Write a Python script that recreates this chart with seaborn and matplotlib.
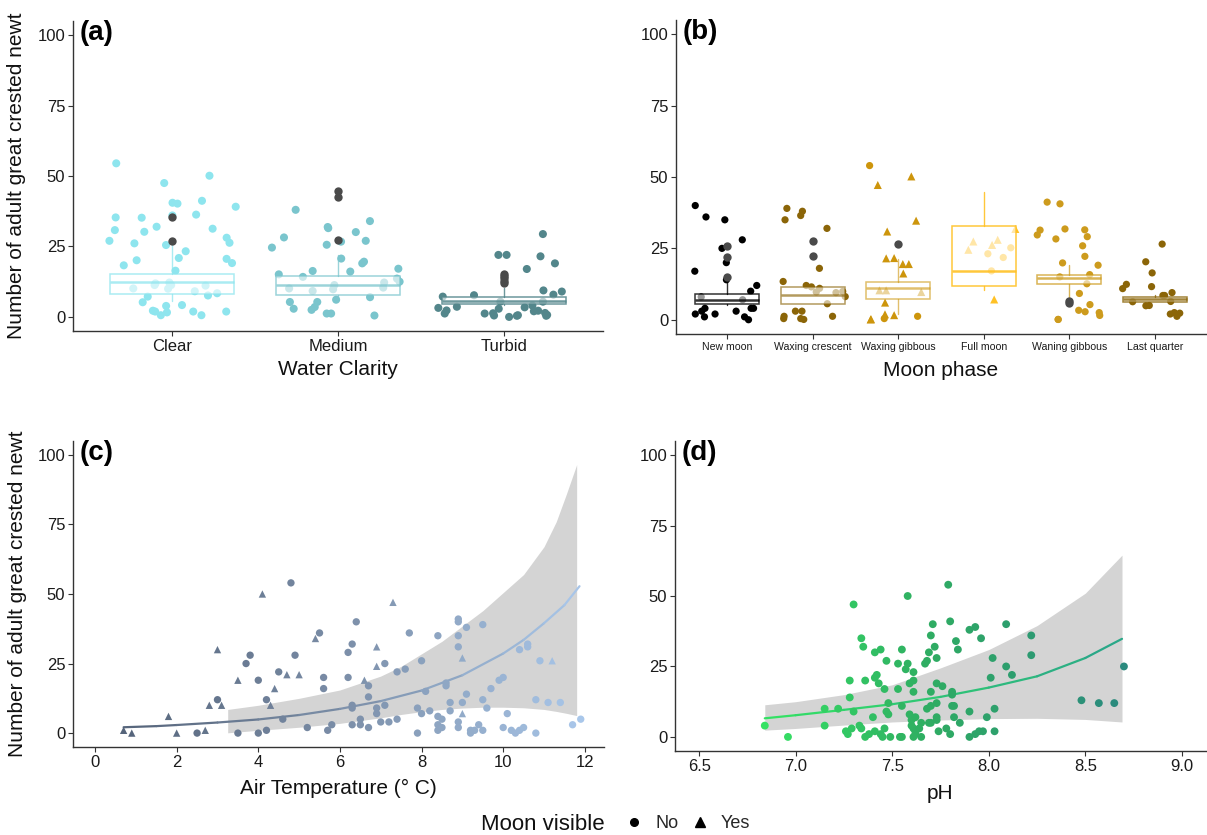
import numpy as np
import pandas as pd
import matplotlib
matplotlib.use("Agg")
import matplotlib.pyplot as plt
import seaborn as sns
from matplotlib.colors import LinearSegmentedColormap, to_rgba, Normalize
from matplotlib.collections import LineCollection
from matplotlib.lines import Line2D

# ---------------- data ----------------
clarity_cats = ["Clear", "Medium", "Turbid"]
clarity_colors = ["#8EE5EE", "#7AC5CD", "#53868B"]
clear_counts = [54.5, 50.1, 47.5, 41.2, 39.1, 40.2, 40.5, 35.3, 35.2, 36.0, 36.3, 31.3, 32.0,
                30.8, 30.2, 28.1, 26.1, 25.5, 26.3, 27.0, 23.3, 19.1, 20.1, 20.9, 20.6, 18.3,
                16.4, 11.1, 9.1, 10.0, 10.1, 11.3, 11.9, 12.2, 11.3, 8.4, 7.6, 7.2, 4.2, 5.2,
                3.9, 2.2, 1.9, 1.9, 1.6, 0.6, 0.6, 1.9]
medium_counts = [38.0, 34.0, 31.9, 31.5, 30.1, 26.7, 25.6, 24.6, 28.2, 27.0, 20.7, 19.6, 17.1,
                 19.0, 15.1, 16.3, 16.1, 14.2, 12.5, 13.6, 12.2, 11.3, 10.4, 10.1, 9.2, 9.8,
                 7.0, 6.1, 5.3, 5.3, 3.5, 2.5, 2.9, 1.2, 1.2, 0.5]
turbid_counts = [29.4, 22.0, 22.0, 21.5, 19.0, 17.0, 9.4, 9.0, 7.2, 7.9, 7.7, 5.4, 5.4, 4.0,
                 3.6, 3.4, 2.3, 1.2, 1.4, 0.5, 0.4, 2.0, 0.4, 2.2, 3.2, 1.3, 2.9, 1.2, 0.0,
                 0.6, 0.7]
# box summaries (q1, median, q3, lower whisker, upper whisker, outliers)
clarity_q1 = [8.0, 7.8, 4.6]
clarity_med = [12.3, 11.5, 5.7]
clarity_q3 = [15.4, 14.6, 7.1]
clarity_wlo = [5.7, 5.7, 4.3]
clarity_whi = [25.5, 22.1, 10.2]
clarity_out = [[35.3, 26.8], [44.8, 42.4, 27.4], [15.4, 14.6, 13.8, 12.9, 12.0]]

phase_cats = ["New moon", "Waxing crescent", "Waxing gibbous", "Full moon",
              "Waning gibbous", "Last quarter"]
phase_colors = ["#000000", "#8B6508", "#CD950C", "#FFC125", "#CD9B1D", "#8B6508"]
phase_no = {
    "New moon": [36, 40, 35, 28, 25, 20, 17, 14, 12, 10, 7, 8, 4, 4, 4, 3, 2, 3, 2, 1, 1, 0],
    "Waxing crescent": [38, 36.5, 39, 35, 32, 18, 13.4, 11.5, 12, 9.5, 5.6, 11, 9.7, 9.9, 8.1,
                        3, 3, 1.2, 0.4, 0.1, 1.2, 0.4],
    "Waxing gibbous": [54, 0.4, 1.2],
    "Full moon": [25.2, 21.8, 23.1, 17.1],
    "Waning gibbous": [40.6, 41.2, 31.8, 31.5, 31.4, 29.7, 29.1, 28.3, 25.9, 22.2, 19.1, 19.9,
                       15.0, 15.8, 12.6, 9.2, 5.3, 3.3, 1.5, 0.1, 2.8, 2.5, 0.1],
    "Last quarter": [26.5, 20.3, 16.4, 12.4, 10.9, 9.5, 11.6, 8.5, 6.4, 5.0, 4.9, 6.3, 2.5,
                     1.2, 2.0, 2.3, 8.5],
}
phase_yes = {
    "Waxing gibbous": [50.2, 47.2, 34.7, 30.9, 21.6, 21.5, 19.5, 19.5, 16.2, 10.3, 10.3, 9.7,
                       6.0, 1.6, 0.2, 1.9, 0.1],
    "Full moon": [27.4, 28.0, 31.8, 26.2, 24.5, 7.1],
}
phase_q1 = [5.5, 5.4, 7.1, 11.9, 12.4, 6.2]
phase_med = [6.8, 8.5, 11.1, 17.1, 14.5, 7.2]
phase_q3 = [8.9, 11.4, 13.2, 32.8, 15.8, 7.9]
phase_wlo = [5.0, 5.4, 2.0, 10.3, 7.5, 6.2]
phase_whi = [13.2, 11.4, 21.3, 44.6, 19.2, 8.6]
phase_out = [[26.0, 21.8, 14.9], [27.5, 22.2], [26.6], [], [6.5, 5.8], []]

air_temp = [0.7, 0.9, 1.8, 2.0, 2.5, 2.7, 3.0, 3.0, 2.8, 3.1, 3.5, 3.5, 3.7, 3.8, 4.0, 4.0,
            4.1, 4.2, 4.2, 4.3, 4.4, 4.5, 4.7, 4.8, 4.9, 5.0, 4.6, 5.2, 5.4, 5.5, 5.6, 5.6,
            5.7, 5.8, 6.2, 6.3, 6.2, 6.4, 6.3, 6.3, 6.3, 6.5, 6.5, 6.6, 6.7, 6.7, 6.7, 6.9,
            6.9, 6.9, 6.9, 7.0, 7.1, 7.1, 7.2, 7.3, 7.4, 7.4, 7.6, 7.7, 7.9, 7.9, 8.0, 8.0,
            8.1, 8.2, 8.4, 8.4, 8.4, 8.4, 8.5, 8.5, 8.6, 8.6, 8.7, 8.7, 8.9, 8.9, 8.9, 8.9,
            9.0, 8.9, 8.9, 9.0, 9.0, 9.1, 9.1, 9.2, 9.3, 9.2, 9.4, 9.5, 9.5, 9.5, 9.6, 9.7,
            9.9, 10.0, 10.0, 10.1, 10.2, 10.3, 10.4, 10.5, 10.4, 10.6, 10.6, 10.8, 10.8, 10.9,
            11.2, 11.1, 11.4, 11.7, 11.9]
temp_counts = [1, 0, 6, 0, 0, 1, 30, 12, 10, 10, 19, 0, 25, 28, 19, 0, 50, 12, 1, 10, 16, 22,
               21, 54, 28, 21, 5, 2, 34, 36, 20, 16, 1, 3, 29, 32, 20, 40, 10, 9, 3, 5, 3, 19,
               17, 13, 2, 31, 24, 9, 7, 4, 25, 10, 4, 47, 22, 5, 23, 36, 9, 0, 26, 7, 15, 8,
               35, 6, 3, 1, 5, 2, 18, 17, 11, 8, 41, 40, 35, 31, 27, 4, 2, 11, 7, 38, 14, 1,
               1, 0, 3, 39, 12, 1, 9, 16, 19, 20, 2, 7, 1, 0, 1, 2, 30, 32, 31, 0, 12, 26, 26,
               11, 11, 3, 5]
temp_moon = ["Yes", "Yes", "Yes", "Yes", "No", "Yes", "Yes", "No", "Yes", "Yes", "Yes", "No",
             "No", "No", "No", "No", "Yes", "No", "No", "Yes", "Yes", "No", "Yes", "No", "No",
             "Yes", "No", "No", "Yes", "No", "No", "No", "No", "No", "No", "No", "No", "No",
             "No", "No", "No", "No", "No", "Yes", "No", "No", "No", "Yes", "Yes", "No", "No",
             "No", "No", "No", "No", "Yes", "No", "No", "No", "No", "No", "No", "No", "No",
             "No", "No", "No", "No", "No", "No", "No", "No", "No", "No", "No", "No", "No",
             "No", "No", "No", "Yes", "No", "No", "No", "Yes", "No", "No", "No", "No", "No",
             "No", "No", "No", "No", "No", "No", "No", "No", "No", "No", "No", "No", "No",
             "No", "No", "No", "No", "No", "No", "No", "Yes", "No", "No", "No", "No"]
temp_fit_x = [0.7, 1.5, 2.0, 3.0, 4.0, 5.0, 6.0, 7.0, 8.0, 9.0, 10.0, 10.5, 11.0, 11.5, 11.87]
temp_fit_y = [2.1, 2.5, 2.9, 3.8, 4.9, 6.5, 8.7, 11.5, 15.3, 20.8, 28.6, 33.5, 39.5, 46.0, 52.8]
temp_band_x = [3.25, 4.0, 5.0, 6.0, 7.0, 7.5, 8.0, 8.5, 9.0, 9.5, 10.0, 10.5, 11.0, 11.3,
               11.55, 11.8]
temp_band_hi = [8.5, 10.0, 12.5, 15.5, 20.5, 24.0, 28.5, 33.0, 38.5, 44.0, 50.5, 57.0, 67.0,
                76.0, 86.0, 96.5]
temp_band_lo = [0.1, 1.0, 2.1, 3.5, 5.5, 6.7, 7.7, 8.5, 9.0, 9.3, 9.3, 9.1, 8.5, 7.8, 7.1, 6.3]

ph_vals = [6.84, 6.96, 7.15, 7.15, 7.22, 7.28, 7.28, 7.30, 7.30, 7.26, 7.27, 7.29, 7.33, 7.34,
           7.34, 7.35, 7.36, 7.36, 7.38, 7.40, 7.41, 7.44, 7.41, 7.42, 7.43, 7.41, 7.44, 7.45,
           7.46, 7.46, 7.47, 7.47, 7.48, 7.48, 7.49, 7.54, 7.55, 7.53, 7.53, 7.55, 7.55, 7.58,
           7.58, 7.57, 7.61, 7.59, 7.61, 7.61, 7.59, 7.60, 7.62, 7.60, 7.61, 7.62, 7.62, 7.61,
           7.65, 7.64, 7.65, 7.68, 7.67, 7.69, 7.70, 7.71, 7.72, 7.73, 7.70, 7.73, 7.76, 7.68,
           7.70, 7.73, 7.69, 7.70, 7.73, 7.73, 7.74, 7.78, 7.80, 7.80, 7.81, 7.81, 7.81, 7.82,
           7.82, 7.83, 7.84, 7.85, 7.90, 7.93, 7.96, 7.90, 7.90, 7.93, 7.95, 7.97, 7.99, 8.01,
           8.02, 8.03, 8.03, 8.09, 8.09, 8.12, 8.22, 8.22, 8.48, 8.57, 8.65, 8.70, 7.79]
ph_counts = [4, 0, 10, 4, 10, 20, 14, 47, 9, 2, 1, 3, 4, 3, 35, 32, 20, 0, 1, 7, 30, 31, 21,
             22, 19, 2, 1, 0, 3, 17, 27, 9, 8, 12, 0, 0, 0, 26, 17, 31, 11, 50, 26, 24, 23,
             19, 20, 16, 8, 6, 7, 4, 3, 2, 1, 0, 0, 3, 5, 27, 26, 30, 36, 40, 32, 28, 16, 19,
             18, 10, 11, 12, 5, 5, 7, 6, 2, 3, 1, 41, 16, 15, 11, 11, 7, 34, 31, 5, 38, 39,
             35, 9, 0, 1, 2, 2, 7, 21, 28, 10, 2, 40, 25, 22, 36, 29, 13, 12, 12, 25, 54]
ph_fit_x = [6.84, 7.0, 7.25, 7.5, 7.75, 8.0, 8.25, 8.5, 8.69]
ph_fit_y = [6.6, 7.7, 9.6, 11.6, 14.2, 17.5, 21.5, 28.0, 34.8]
ph_band_hi = [11.4, 12.5, 15.0, 18.5, 24.5, 31.0, 39.5, 51.0, 64.5]
ph_band_lo = [2.4, 3.0, 4.2, 5.3, 6.0, 6.5, 6.6, 6.2, 5.3]

Y_TITLE = "Number of adult great crested newt"

# ---------------- figure ----------------
sns.set_theme(style="ticks")
plt.rcParams["font.family"] = ["Liberation Sans", "DejaVu Sans"]

W, H = 1207, 835
fig = plt.figure(figsize=(W / 100, H / 100), dpi=100)
fig.patch.set_facecolor("white")


def ax_px(l, t, r, b):
    return fig.add_axes([l / W, 1 - b / H, (r - l) / W, (b - t) / H])


axa = ax_px(73, 21, 603, 331)
axb = ax_px(676, 20, 1206, 334)
axc = ax_px(73, 441, 604, 747)
axd = ax_px(675, 441, 1206, 751)


def style(ax, lab):
    for s in ["top", "right"]:
        ax.spines[s].set_visible(False)
    for s in ["left", "bottom"]:
        ax.spines[s].set_color("#333333")
        ax.spines[s].set_linewidth(1.0)
    ax.tick_params(axis="both", length=3.5, width=0.8, color="#333333",
                   labelsize=12, labelcolor="#1a1a1a", pad=2)
    ax.set_ylim(-5, 105)
    ax.set_yticks([0, 25, 50, 75, 100])
    ax.set_facecolor("white")
    ax.text(0.012, 0.962, lab, transform=ax.transAxes, fontsize=20, fontweight="bold",
            ha="left", va="center", color="black")


def draw_boxes(ax, q1, med, q3, wlo, whi, out, colors, edge_alpha):
    stats = [dict(q1=a, med=m, q3=b, whislo=lo, whishi=hi, fliers=f)
             for a, m, b, lo, hi, f in zip(q1, med, q3, wlo, whi, out)]
    bp = ax.bxp(stats, positions=list(range(len(stats))), widths=0.75, patch_artist=True,
                showcaps=False, showfliers=True, manage_ticks=False, zorder=4,
                flierprops=dict(marker="o", markerfacecolor="#4a4a4a",
                                markeredgecolor="none", markersize=6))
    for i, c in enumerate(colors):
        ec = to_rgba(c, edge_alpha[i])
        bp["boxes"][i].set_facecolor((1, 1, 1, 0.6))
        bp["boxes"][i].set_edgecolor(ec)
        bp["boxes"][i].set_linewidth(1.1)
        bp["medians"][i].set_color(ec)
        bp["medians"][i].set_linewidth(1.8)
        for w in bp["whiskers"][2 * i:2 * i + 2]:
            w.set_color(ec)
            w.set_linewidth(1.0)
        bp["fliers"][i].set_zorder(5)


# ---- (a) water clarity ----
df_a = pd.DataFrame({
    "clarity": np.repeat(clarity_cats, [len(clear_counts), len(medium_counts), len(turbid_counts)]),
    "count": np.concatenate([clear_counts, medium_counts, turbid_counts]),
})
np.random.seed(7)
sns.stripplot(data=df_a, x="clarity", y="count", hue="clarity", order=clarity_cats,
              hue_order=clarity_cats, palette=dict(zip(clarity_cats, clarity_colors)),
              jitter=0.4, size=5.8, linewidth=0, legend=False, ax=axa, zorder=2)
draw_boxes(axa, clarity_q1, clarity_med, clarity_q3, clarity_wlo, clarity_whi, clarity_out,
           clarity_colors, [0.75, 0.75, 0.85])
style(axa, "(a)")
axa.set_xlim(-0.6, 2.6)
axa.set_xlabel("Water Clarity", fontsize=15, color="#111111")
axa.set_ylabel(Y_TITLE, fontsize=15, color="#111111")
axa.xaxis.set_label_coords(0.5, -0.095)
axa.yaxis.set_label_coords(-0.088, 0.5)

# ---- (b) moon phase ----
rows = []
for p in phase_cats:
    for v in phase_no.get(p, []):
        rows.append((p, v, "No"))
    for v in phase_yes.get(p, []):
        rows.append((p, v, "Yes"))
df_b = pd.DataFrame(rows, columns=["phase", "count", "moon"])
pal_b = dict(zip(phase_cats, phase_colors))
np.random.seed(11)
sns.stripplot(data=df_b[df_b.moon == "No"], x="phase", y="count", hue="phase",
              order=phase_cats, hue_order=phase_cats, palette=pal_b, jitter=0.39,
              size=5.2, linewidth=0, legend=False, marker="o", ax=axb, zorder=2)
sns.stripplot(data=df_b[df_b.moon == "Yes"], x="phase", y="count", hue="phase",
              order=phase_cats, hue_order=phase_cats, palette=pal_b, jitter=0.39,
              size=5.8, linewidth=0, legend=False, marker="^", ax=axb, zorder=2)
draw_boxes(axb, phase_q1, phase_med, phase_q3, phase_wlo, phase_whi, phase_out,
           phase_colors, [0.8, 0.65, 0.6, 0.9, 0.75, 0.8])
style(axb, "(b)")
axb.set_xlim(-0.6, 5.6)
axb.tick_params(axis="x", labelsize=7.6)
axb.set_xlabel("Moon phase", fontsize=15, color="#111111")
axb.set_ylabel("")
axb.xaxis.set_label_coords(0.5, -0.087)

# ---- (c) air temperature ----
cmap_c = LinearSegmentedColormap.from_list("temp", ["#55647a", "#7d90aa", "#a9c7ea"])
norm_c = Normalize(0.7, 11.9)
axc.fill_between(temp_band_x, temp_band_lo, temp_band_hi, color="#d4d4d4", lw=0, zorder=1)
pts = np.column_stack([temp_fit_x, temp_fit_y])
segs = np.stack([pts[:-1], pts[1:]], axis=1)
mids = (np.array(temp_fit_x[:-1]) + np.array(temp_fit_x[1:])) / 2
axc.add_collection(LineCollection(segs, colors=cmap_c(norm_c(mids)), linewidths=1.6,
                                  zorder=2, capstyle="round"))
df_c = pd.DataFrame({"temp": air_temp, "count": temp_counts, "moon": temp_moon})
sns.scatterplot(data=df_c, x="temp", y="count", hue="temp", palette=cmap_c, hue_norm=norm_c,
                style="moon", markers={"No": "o", "Yes": "^"}, s=28, linewidth=0,
                legend=False, ax=axc, zorder=3)
style(axc, "(c)")
axc.set_xlim(-0.54, 12.47)
axc.set_xticks([0, 2, 4, 6, 8, 10, 12])
axc.set_xlabel("Air Temperature (° C)", fontsize=15, color="#111111")
axc.set_ylabel(Y_TITLE, fontsize=15, color="#111111")
axc.xaxis.set_label_coords(0.5, -0.105)
axc.yaxis.set_label_coords(-0.087, 0.5)

# ---- (d) pH ----
cmap_d = LinearSegmentedColormap.from_list("ph", [(0, "#36e264"), (0.45, "#2fad62"),
                                                  (1, "#2b8a7e")])
cmap_dl = LinearSegmentedColormap.from_list("phl", ["#33e462", "#2aa58a"])
norm_d = Normalize(6.84, 8.7)
axd.fill_between(ph_fit_x, ph_band_lo, ph_band_hi, color="#d4d4d4", lw=0, zorder=1)
pts = np.column_stack([ph_fit_x, ph_fit_y])
segs = np.stack([pts[:-1], pts[1:]], axis=1)
mids = (np.array(ph_fit_x[:-1]) + np.array(ph_fit_x[1:])) / 2
axd.add_collection(LineCollection(segs, colors=cmap_dl(norm_d(mids)), linewidths=1.6,
                                  zorder=2, capstyle="round"))
df_d = pd.DataFrame({"ph": ph_vals, "count": ph_counts})
sns.scatterplot(data=df_d, x="ph", y="count", hue="ph", palette=cmap_d, hue_norm=norm_d,
                s=32, linewidth=0, legend=False, ax=axd, zorder=3)
style(axd, "(d)")
axd.set_xlim(6.375, 9.125)
axd.set_xticks([6.5, 7.0, 7.5, 8.0, 8.5, 9.0])
axd.set_xticklabels(["6.5", "7.0", "7.5", "8.0", "8.5", "9.0"])
axd.set_xlabel("pH", fontsize=15, color="#111111")
axd.set_ylabel("")
axd.xaxis.set_label_coords(0.5, -0.105)

# ---- legend ----
fig.text(543 / W, 1 - 824 / H, "Moon visible", ha="center", va="center", fontsize=16,
         color="#111111")
handles = [Line2D([], [], marker="o", ls="", color="black", markersize=5.5),
           Line2D([], [], marker="^", ls="", color="black", markersize=6.5)]
fig.legend(handles, ["No", "Yes"], loc="center left", bbox_to_anchor=(611 / W, 1 - 824 / H),
           ncol=2, frameon=False, fontsize=13, handlelength=0.8, handletextpad=0.75,
           columnspacing=0.8, borderpad=0.4)

fig.savefig("out.png", dpi=100, facecolor="white")
